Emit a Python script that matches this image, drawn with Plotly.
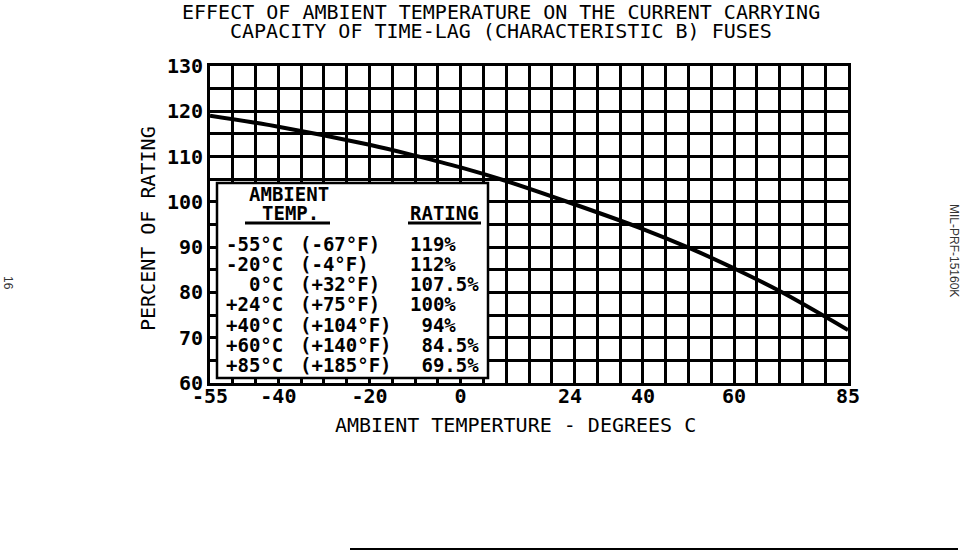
import plotly.graph_objects as go

# curve
temp_c = [-55, -40, -20, -10, 0, 10, 24, 40, 50, 60, 70, 85]
pct_rating = [119.0, 116.6, 112.6, 110.2, 107.6, 104.6, 99.8, 94.0, 89.9, 85.3, 80.3, 71.7]

x_ticks = [-55, -40, -20, 0, 24, 40, 60, 85]
x_tick_text = ["-55", "-40", "-20", "0", "24", "40", "60", "85"]

# inset table
table_c = ["-55°C", "-20°C", "0°C", "+24°C", "+40°C", "+60°C", "+85°C"]
table_f = ["(-67°F)", "(-4°F)", "(+32°F)", "(+75°F)", "(+104°F)", "(+140°F)", "(+185°F)"]
table_rating = ["119%", "112%", "107.5%", "100%", "\u00a094%", "\u00a084.5%", "\u00a069.5%"]

MONO = "DejaVu Sans Mono"
FIG_W, FIG_H = 960, 552
L, T, W, H = 210, 66, 638, 317  # plot box in pixels


def px(x):
    return (x - L) / W


def py(y):
    return (T + H - y) / H


fig = go.Figure(
    go.Scatter(
        x=temp_c,
        y=pct_rating,
        mode="lines",
        line=dict(color="black", width=4, shape="spline", smoothing=1.0),
        hoverinfo="skip",
    )
)

fig.update_layout(
    width=FIG_W,
    height=FIG_H,
    margin=dict(l=L, r=FIG_W - L - W, t=T, b=FIG_H - T - H),
    plot_bgcolor="white",
    paper_bgcolor="white",
    showlegend=False,
    font=dict(family=MONO, size=20, color="black", weight="bold"),
)

fig.update_xaxes(
    range=[-55, 85],
    tickmode="array",
    tickvals=x_ticks,
    ticktext=x_tick_text,
    showgrid=False,
    zeroline=False,
    showline=True,
    mirror=True,
    linecolor="black",
    linewidth=3,
    ticks="",
    ticklabelstandoff=-7,
    tickfont=dict(size=20),
    minor=dict(tickmode="linear", tick0=-55, dtick=5, showgrid=True,
               gridcolor="black", gridwidth=3, ticks=""),
)
fig.update_yaxes(
    range=[60, 130],
    tickmode="linear",
    tick0=60,
    dtick=10,
    showgrid=True,
    gridcolor="black",
    gridwidth=3,
    zeroline=False,
    showline=True,
    mirror=True,
    linecolor="black",
    linewidth=3,
    ticks="",
    tickfont=dict(size=20),
    minor=dict(dtick=5, showgrid=True, gridcolor="black", gridwidth=3, ticks=""),
)


def note(text, x, y, size=20, xanchor="center", angle=0, weight="normal",
         family=MONO, color="black"):
    return dict(x=px(x), y=py(y), xref="paper", yref="paper", showarrow=False,
                xanchor=xanchor, yanchor="middle", text=text, textangle=angle,
                font=dict(family=family, size=size, weight=weight, color=color))


ann = [
    note("EFFECT OF AMBIENT TEMPERATURE ON THE CURRENT CARRYING", 501, 12),
    note("CAPACITY OF TIME-LAG (CHARACTERISTIC B) FUSES", 501, 31),
    note("AMBIENT TEMPERTURE - DEGREES C", 515, 425),
    note("PERCENT OF RATING", 148, 229, angle=-90),
]

# table header
ann.append(note("AMBIENT", 247, 194, size=19, xanchor="left", weight="bold"))
ann.append(note("TEMP.", 260, 213, size=19, xanchor="left", weight="bold"))
ann.append(note("RATING", 408, 213, size=19, xanchor="left", weight="bold"))

# table rows
for i in range(len(table_c)):
    yy = 243.5 + i * 20.3
    ann.append(note(table_c[i], 285, yy, size=19, xanchor="right", weight="bold"))
    ann.append(note(table_f[i], 298, yy, size=19, xanchor="left", weight="bold"))
    ann.append(note(table_rating[i], 408, yy, size=19, xanchor="left", weight="bold"))

# page furniture
ann.append(note("MIL-PRF-15160K", 954, 250, size=12, angle=90,
                family="Liberation Sans", color="#333333"))
ann.append(note("16", 8, 283, size=12, angle=90,
                family="Liberation Sans", color="#333333"))
fig.update_layout(annotations=ann)

shapes = [
    dict(type="rect", xref="paper", yref="paper", x0=px(217), x1=px(488), y0=py(378), y1=py(183),
         fillcolor="white", line=dict(color="black", width=2.5), layer="above"),
    dict(type="line", xref="paper", yref="paper", x0=px(245), x1=px(330), y0=py(223), y1=py(223),
         line=dict(color="black", width=3), layer="above"),
    dict(type="line", xref="paper", yref="paper", x0=px(408), x1=px(481), y0=py(223), y1=py(223),
         line=dict(color="black", width=3), layer="above"),
    dict(type="line", xref="paper", yref="paper", x0=px(350), x1=px(958), y0=py(549), y1=py(549),
         line=dict(color="black", width=2)),
]
fig.update_layout(shapes=shapes)

# drop the browser's default 8px body margin so the figure sits at the page corner
fig.write_html(
    "out.html",
    config={"displayModeBar": False},
    post_script="document.body.style.margin='0';",
)
